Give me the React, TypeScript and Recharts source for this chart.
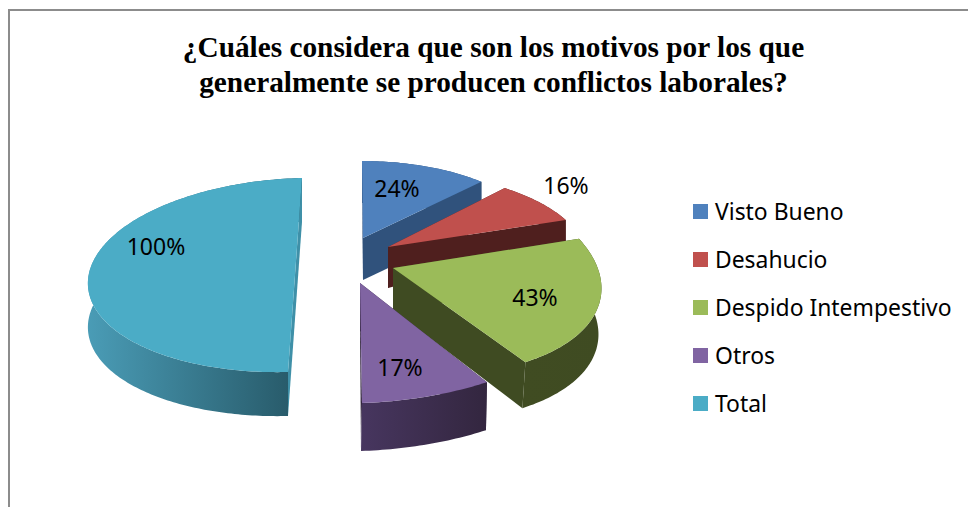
import { PieChart, Pie, Legend } from 'recharts';

const categories = ['Visto Bueno', 'Desahucio', 'Despido Intempestivo', 'Otros', 'Total'];
const percents = [24, 16, 43, 17, 100];
const colors = ['#4f81bd', '#c0504d', '#9bbb59', '#8064a2', '#4bacc6'];
const titleLines = [
  '¿Cuáles considera que son los motivos por los que',
  'generalmente se producen conflictos laborales?',
];

const rows = categories.map((name, i) => ({ name, value: percents[i], fill: colors[i] }));

const CX = 360;
const CY = 270;
const RADIUS = 100;
const FONT = '"Noto Sans", sans-serif';

// hand fitted 3D look: exploded apex offset + affine of the unit circle for each slice
const looks = [
  { ox: 3, oy: -32, ax: 174, bx: -1, ay: 0, by: -77, apexDepth: 42, rimDepth: 42, shift: 0, wall: '#30527c', rim: ['#30527c', '#30527c'] },
  { ox: 28, oy: -23, ax: 194, bx: -22, ay: -3, by: -78, apexDepth: 41, rimDepth: 22, shift: 0, wall: '#4f1f1e', rim: ['#4f1f1e', '#4f1f1e'] },
  { ox: 33, oy: -2, ax: 206, bx: -32, ay: 4, by: -107, apexDepth: 42, rimDepth: 46, shift: -3, wall: '#3f4b22', rim: ['#3f4b22', '#404c22'] },
  { ox: 0, oy: 13, ax: 246, bx: -2, ay: -8, by: -120, apexDepth: 48, rimDepth: 48, shift: -1, wall: '#33263f', rim: ['#33263f', '#47365f'] },
  { ox: -65, oy: 5, ax: 207, bx: 7, ay: -5, by: -97, apexDepth: 44, rimDepth: 44, shift: 0, wall: '#3f90a8', rim: ['#265766', '#4a9cb6'], wallOnTop: true },
];

const labelSpots = [
  { x: 397, y: 188 },
  { x: 566, y: 185 },
  { x: 535, y: 297 },
  { x: 400, y: 367 },
  { x: 156, y: 246 },
];

function Slice3D(props: any) {
  const i = categories.indexOf(props.name ?? props.payload?.name);
  const look = looks[i];
  const k = props.outerRadius / RADIUS;
  const apexX = props.cx + look.ox;
  const apexY = props.cy + look.oy;
  // recharts angles are counted anticlockwise from 3 o'clock
  const from = 90 - props.startAngle;
  const to = 90 - props.endAngle;
  const arc: [number, number][] = [];
  const steps = Math.max(4, Math.ceil(Math.abs(to - from)));
  for (let s = 0; s <= steps; s++) {
    const t = ((from + ((to - from) * s) / steps) * Math.PI) / 180;
    arc.push([
      apexX + k * (look.ax * Math.sin(t) + look.bx * Math.cos(t)),
      apexY + k * (look.ay * Math.sin(t) + look.by * Math.cos(t)),
    ]);
  }
  const poly = (pts: [number, number][]) => 'M' + pts.map((p) => p.join(',')).join('L') + 'Z';
  const down = (p: [number, number]): [number, number] => [p[0] + look.shift, p[1] + look.rimDepth];
  const apex: [number, number] = [apexX, apexY];
  const apexLow: [number, number] = [apexX, apexY + look.apexDepth];
  const first = arc[0];
  const last = arc[arc.length - 1];
  const gradId = `rim-${i}`;
  const walls = (
    <>
      <path d={poly([apex, first, down(first), apexLow])} fill={look.wall} />
      <path d={poly([apex, last, down(last), apexLow])} fill={look.wall} />
    </>
  );
  const rim = <path d={poly([...arc, ...arc.map(down).reverse()])} fill={`url(#${gradId})`} />;
  return (
    <g>
      <defs>
        <linearGradient id={gradId} x1="0" y1="0" x2="1" y2="0">
          <stop offset="0%" stopColor={look.rim[1]} />
          <stop offset="100%" stopColor={look.rim[0]} />
        </linearGradient>
      </defs>
      {look.wallOnTop ? rim : walls}
      {look.wallOnTop ? walls : rim}
      <path d={poly([apex, ...arc])} fill={props.fill} />
    </g>
  );
}

function pieLabel(props: any) {
  const i = categories.indexOf(props.name);
  return (
    <text
      x={labelSpots[i].x}
      y={labelSpots[i].y}
      textAnchor="middle"
      dominantBaseline="central"
      fontFamily={FONT}
      fontSize={23}
      fill="#000"
    >
      {props.value}%
    </text>
  );
}

function LegendBox({ payload }: any) {
  return (
    <div style={{ fontFamily: FONT, fontSize: 22.9, color: '#000' }}>
      {(payload ?? []).map((item: any) => (
        <div key={item.value} style={{ display: 'flex', alignItems: 'center', height: 48.2 }}>
          <span style={{ width: 15, height: 15, background: item.color, marginRight: 7, flex: 'none' }} />
          <span style={{ whiteSpace: 'nowrap' }}>{item.value}</span>
        </div>
      ))}
    </div>
  );
}

export default function App() {
  return (
    <div style={{ position: 'absolute', left: 0, top: 0, width: 968, height: 507, background: '#fff', overflow: 'hidden' }}>
      <div style={{ position: 'absolute', left: 8, top: 9, right: 0, bottom: 0, borderTop: '2px solid #8c8c8c', borderLeft: '2px solid #8c8c8c' }} />
      <div
        style={{
          position: 'absolute',
          left: 0,
          top: 30,
          width: 987,
          textAlign: 'center',
          fontFamily: '"Liberation Serif", serif',
          fontWeight: 700,
          fontSize: 29.3,
          lineHeight: '35px',
          color: '#000',
        }}
      >
        {titleLines.map((line) => (
          <div key={line}>{line}</div>
        ))}
      </div>
      <div style={{ position: 'absolute', left: 0, top: 0 }}>
        <PieChart width={968} height={507} margin={{ top: 0, right: 0, bottom: 0, left: 0 }}>
          <Pie
            data={rows}
            dataKey="value"
            nameKey="name"
            cx={CX}
            cy={CY}
            outerRadius={RADIUS}
            startAngle={90}
            endAngle={-270}
            stroke="none"
            shape={Slice3D}
            label={pieLabel}
            labelLine={false}
            isAnimationActive={false}
          />
          <Legend
            layout="vertical"
            itemSorter={null}
            content={<LegendBox />}
            wrapperStyle={{ position: 'absolute', left: 693, top: 187, width: 275, bottom: 'auto', right: 'auto' }}
          />
        </PieChart>
      </div>
    </div>
  );
}
